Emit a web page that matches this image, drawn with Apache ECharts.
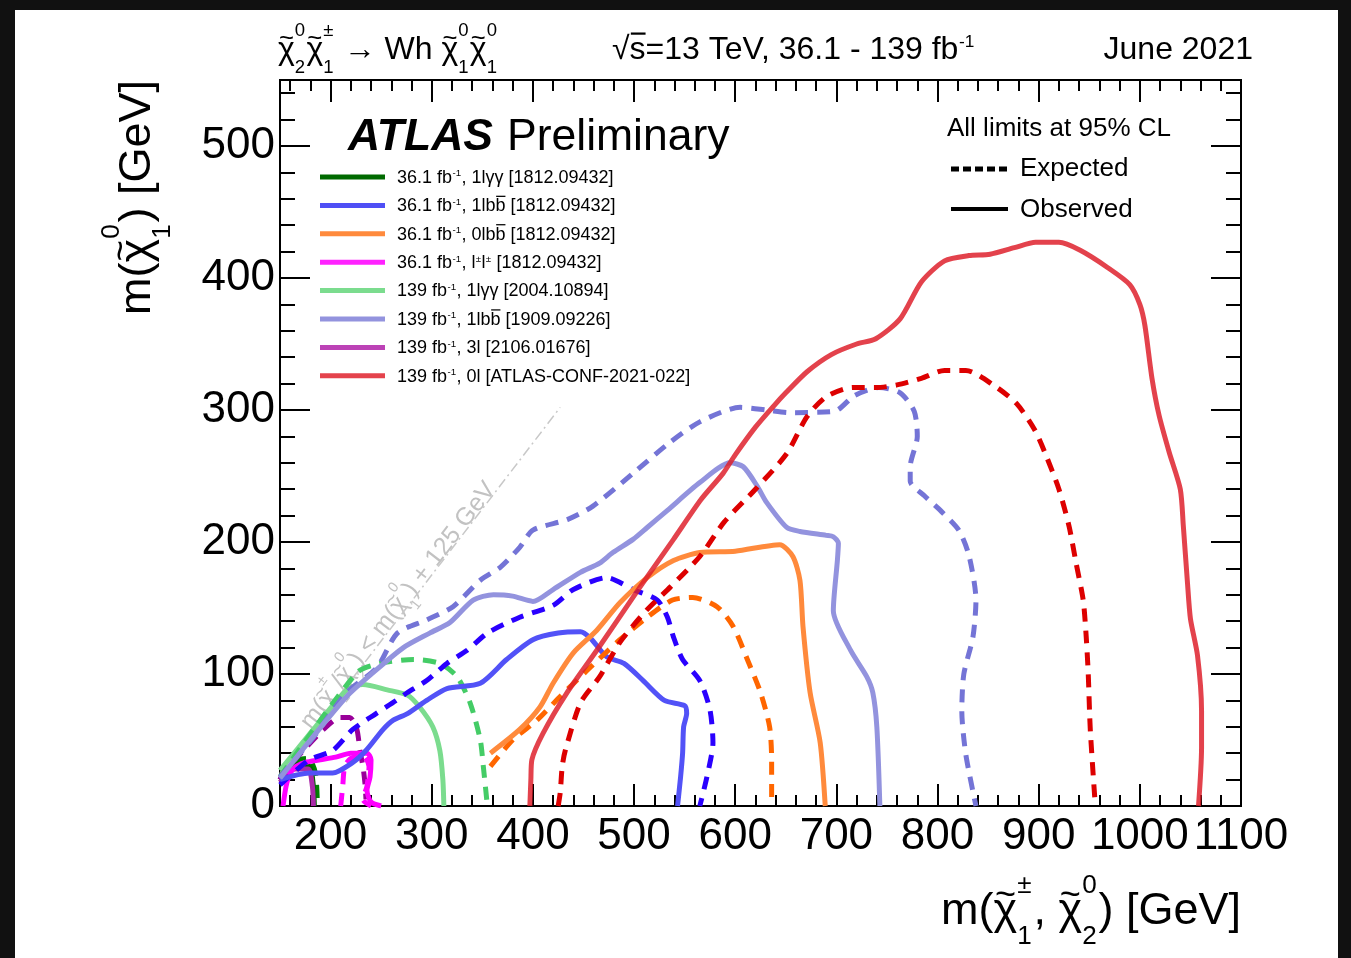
<!DOCTYPE html>
<html>
<head>
<meta charset="utf-8">
<script src="https://cdn.jsdelivr.net/npm/echarts@6/dist/echarts.min.js"></script>
<style>
  html, body { margin: 0; padding: 0; background: #111; }
  #paper { position: absolute; left: 15px; top: 10px; width: 1323px; height: 948px; background: #fff; }
  #chart { position: absolute; left: 0; top: 0; width: 1351px; height: 958px; }
</style>
</head>
<body>
<div id="paper"></div>
<div id="chart"></div>
<script>
// ---------- axis ranges and ticks ----------
const X_MIN = 150, X_MAX = 1100, Y_MIN = 0, Y_MAX = 550;
const xMajorTicks = [200, 300, 400, 500, 600, 700, 800, 900, 1000, 1100];
const yMajorTicks = [0, 100, 200, 300, 400, 500];
const xMinorTicks = [];
for (let v = 160; v < X_MAX; v += 20) if (v % 100 !== 0) xMinorTicks.push(v);
const yMinorTicks = [];
for (let v = 20; v < Y_MAX; v += 20) if (v % 100 !== 0) yMinorTicks.push(v);

// ---------- exclusion contours: [m(chargino/neutralino2), m(neutralino1)] ----------
// 36.1 fb-1, 1l yy
const obs_1lyy_36 = [[150,20],[160,29],[172,32],[180,29],[183,15],[184,0]];
const exp_1lyy_36 = [[152,19],[165,34],[178,36],[185,25],[187,0]];
// 36.1 fb-1, 1lbb
const obs_1lbb_36 = [[150,20],[179,25],[202,25],[222,33],[235,42],[252,58],[262,65],[276,70],[295,80],[315,89],[348,93],[374,111],[400,126],[425,131],[447,132],[457,127],[473,113],[490,108],[509,95],[530,80],[550,76],[552,70],[549,60],[548,40],[546,22],[543,0]];
const exp_1lbb_36 = [[150,16],[179,35],[202,42],[222,58],[245,70],[265,80],[276,86],[295,95],[315,108],[335,118],[355,131],[387,143],[420,152],[440,164],[473,173],[499,164],[523,156],[533,143],[539,128],[548,111],[565,95],[575,73],[578,48],[572,22],[565,0]];
// 36.1 fb-1, 0lbb
const obs_0lbb_36 = [[358,40],[387,58],[407,75],[420,93],[440,116],[463,133],[486,154],[513,173],[539,186],[565,192],[600,193],[644,198],[657,189],[664,171],[667,136],[674,86],[684,48],[689,0]];
const exp_0lbb_36 = [[358,30],[380,50],[404,65],[427,83],[454,103],[486,126],[513,143],[538,156],[558,158],[582,151],[598,136],[612,111],[625,86],[634,60],[636,35],[636,0]];
// 36.1 fb-1, same-sign leptons
const obs_ss_36 = [[153,0],[156,15],[160,25],[166,30],[175,33],[190,35],[205,37],[220,40],[236,40],[240,35],[239,22],[236,12],[240,3],[250,0]];
const exp_ss_36 = [[210,0],[212,15],[214,30],[220,36],[232,38],[238,30],[236,15],[232,5],[240,0]];
// 139 fb-1, 1l yy
const obs_1lyy_139 = [[150,27],[183,58],[216,88],[232,92],[256,88],[276,84],[288,75],[301,60],[308,42],[311,20],[312,0]];
const exp_1lyy_139 = [[150,22],[226,101],[249,108],[282,111],[308,108],[325,98],[338,78],[348,50],[351,30],[355,0]];
// 139 fb-1, 1lbb
const obs_1lbb_139 = [[150,21],[180,50],[216,83],[242,101],[272,120],[298,131],[318,139],[341,156],[361,160],[380,159],[400,155],[420,164],[447,177],[466,184],[479,192],[499,202],[513,211],[533,224],[565,245],[595,260],[608,257],[622,242],[631,230],[651,211],[664,208],[690,205],[697,204],[702,199],[701,186],[697,148],[714,118],[730,98],[736,86],[740,60],[743,0]];
const exp_1lbb_139 = [[150,22],[183,52],[216,86],[246,105],[266,131],[295,141],[321,151],[348,171],[368,181],[387,196],[400,209],[434,217],[459,227],[499,252],[533,274],[565,291],[605,302],[631,300],[654,298],[698,299],[718,311],[742,317],[763,313],[777,299],[780,280],[773,257],[773,246],[787,235],[804,223],[821,209],[831,190],[838,156],[835,128],[826,100],[824,72],[828,39],[838,0]];
// 139 fb-1, 3l
const obs_3l_139 = [[150,18],[165,28],[178,28],[182,15],[183,0]];
const exp_3l_139 = [[150,20],[153,25],[173,42],[193,58],[209,67],[219,67],[226,58],[229,42],[232,30],[234,17],[235,5]];
// 139 fb-1, 0l
const obs_0l_139 = [[397,0],[398,20],[399,35],[410,55],[433,85],[466,121],[506,166],[539,202],[566,232],[588,252],[600,266],[620,287],[638,303],[650,313],[671,329],[695,342],[720,350],[739,354],[763,369],[784,397],[807,413],[831,417],[852,418],[876,423],[897,427],[920,427],[941,421],[968,408],[990,395],[1000,380],[1005,364],[1012,324],[1019,296],[1029,268],[1040,240],[1043,212],[1047,170],[1050,142],[1057,114],[1061,72],[1061,44],[1058,0]];
const exp_0l_139 = [[425,0],[427,10],[429,30],[432,42],[447,78],[466,98],[486,124],[512,148],[536,166],[565,189],[589,215],[620,240],[651,267],[671,295],[690,310],[716,317],[739,317],[760,319],[784,324],[807,330],[828,330],[855,319],[878,305],[896,285],[906,268],[920,240],[930,212],[937,184],[944,156],[947,128],[949,100],[951,58],[956,0]];

// kinematic boundary m(chi2) = m(chi1) + 125 GeV
const boundary = [[150,25],[427,302]];

// ---------- text ----------
const FONT = '"Liberation Sans", Arial, Helvetica, sans-serif';
const legendRows = [
  { color: '#006a00', runs: ['36.1 fb', {sup:'-1', lo:1}, ', 1lγγ [1812.09432]'] },
  { color: '#4f4ff5', runs: ['36.1 fb', {sup:'-1', lo:1}, ', 1lb', {bar:'b'}, ' [1812.09432]'] },
  { color: '#ff8a3c', runs: ['36.1 fb', {sup:'-1', lo:1}, ', 0lb', {bar:'b'}, ' [1812.09432]'] },
  { color: '#ff22ff', runs: ['36.1 fb', {sup:'-1', lo:1}, ', l', {sup:'±', lo:1}, 'l', {sup:'±', lo:1}, ' [1812.09432]'] },
  { color: '#7bdc8e', runs: ['139 fb', {sup:'-1', lo:1}, ', 1lγγ [2004.10894]'] },
  { color: '#9393de', runs: ['139 fb', {sup:'-1', lo:1}, ', 1lb', {bar:'b'}, ' [1909.09226]'] },
  { color: '#bc42b6', runs: ['139 fb', {sup:'-1', lo:1}, ', 3l [2106.01676]'] },
  { color: '#e4434c', runs: ['139 fb', {sup:'-1', lo:1}, ', 0l [ATLAS-CONF-2021-022]'] }
];

// ---------- helpers for formula-like labels ----------
const mctx = document.createElement('canvas').getContext('2d');
function textWidth(t, size, weight, style) {
  mctx.font = (style || 'normal') + ' ' + (weight || 'normal') + ' ' + size + 'px ' + FONT;
  return mctx.measureText(t).width;
}
function piece(t, x, base, size, color, weight, style) {
  return {
    type: 'text', x: x, y: base - 0.31 * size, silent: true,
    style: { text: t, fill: color, fontSize: size, fontFamily: FONT,
             fontWeight: weight || 'normal', fontStyle: style || 'normal',
             align: 'left', verticalAlign: 'middle' }
  };
}
// runs: plain strings, {chi:1} (tilde chi), {bar:'b'} (overlined letter), {sup, sub} (stacked scripts)
function formula(runs, o) {
  const S = o.size, col = o.color || '#000', kids = [];
  let x = 0;
  runs.forEach(function (r) {
    if (typeof r === 'string') {
      kids.push(piece(r, x, 0, S, col, o.weight, o.style));
      x += textWidth(r, S, o.weight, o.style);
    } else if (r.chi) {
      const w = textWidth('χ', S);
      kids.push(piece('χ', x, 0, S, col));
      const ts = S * 0.8;
      kids.push(piece('~', x + w / 2 - textWidth('~', ts) / 2, -0.42 * S, ts, col));
      x += w;
    } else if (r.bar) {
      const w = textWidth(r.bar, S);
      kids.push(piece(r.bar, x, 0, S, col));
      const by = r.barY != null ? r.barY : -0.9;
      kids.push({ type: 'rect', silent: true, shape: { x: x + 0.04 * S, y: by * S, width: w - 0.04 * S, height: 0.07 * S }, style: { fill: col } });
      x += w;
    } else {
      const ss = S * (r.lo ? 0.54 : 0.58);
      let w = 0;
      if (r.sup != null) { kids.push(piece(r.sup, x + (r.lo ? 0.02 * S : 0), (r.lo ? -0.38 : -0.72) * S, ss, col)); w = Math.max(w, textWidth(r.sup, ss)); }
      if (r.sub != null) { kids.push(piece(r.sub, x, 0.42 * S, ss, col)); w = Math.max(w, textWidth(r.sub, ss)); }
      x += w + 0.04 * S;
    }
  });
  const shift = o.align === 'right' ? -x : (o.align === 'center' ? -x / 2 : 0);
  kids.forEach(function (k) { if (k.type === 'rect') k.shape.x += shift; else k.x += shift; });
  return { type: 'group', x: o.x, y: o.y, rotation: o.rotation || 0, silent: true, children: kids };
}
const CHI = { chi: 1 };

// ---------- axes (major and minor ticks on all four sides) ----------
function plainNumber(v) { return String(Math.round(v)); }
function xAxisDef(position, ticks, len, labels) {
  return {
    type: 'value', min: X_MIN, max: X_MAX, position: position, gridIndex: 0,
    axisLine: { show: true, onZero: false, lineStyle: { color: '#000', width: 2 } },
    axisTick: { show: true, inside: true, length: len, customValues: ticks, lineStyle: { color: '#000', width: 2 } },
    axisLabel: labels ? { show: true, customValues: labels, formatter: plainNumber, fontSize: 44, fontFamily: FONT, color: '#000', margin: 9,
                          hideOverlap: false, showMinLabel: true, showMaxLabel: true }
                      : { show: false },
    splitLine: { show: false }
  };
}
function yAxisDef(position, ticks, len, labels) {
  return {
    type: 'value', min: Y_MIN, max: Y_MAX, position: position, gridIndex: 0,
    axisLine: { show: true, onZero: false, lineStyle: { color: '#000', width: 2 } },
    axisTick: { show: true, inside: true, length: len, customValues: ticks, lineStyle: { color: '#000', width: 2 } },
    axisLabel: labels ? { show: true, customValues: labels, formatter: plainNumber, fontSize: 44, fontFamily: FONT, color: '#000', margin: 5,
                          hideOverlap: false, showMinLabel: true, showMaxLabel: true }
                      : { show: false },
    splitLine: { show: false }
  };
}

// ---------- contour series ----------
const DASH = [13, 9];
const contours = [
  { data: boundary,      color: '#c8c8c8', width: 1.5, type: [10, 4, 2, 4] },
  { data: exp_1lyy_36,   color: '#008000', dash: true },
  { data: obs_1lyy_36,   color: '#006a00' },
  { data: exp_3l_139,    color: '#990099', dash: true },
  { data: obs_3l_139,    color: '#aa2aa8' },
  { data: obs_ss_36,     color: '#ff00ff' },
  { data: exp_ss_36,     color: '#ff00ff', dash: true },
  { data: obs_1lyy_139,  color: '#7bdc8e' },
  { data: exp_1lyy_139,  color: '#44cc66', dash: true },
  { data: exp_1lbb_36,   color: '#2a00ff', dash: true },
  { data: obs_1lbb_36,   color: '#5252f7' },
  { data: exp_0lbb_36,   color: '#ff6600', dash: true },
  { data: obs_0lbb_36,   color: '#ff8a3c' },
  { data: exp_1lbb_139,  color: '#7474d6', dash: true },
  { data: obs_1lbb_139,  color: '#9393de' },
  { data: exp_0l_139,    color: '#dd0000', dash: true },
  { data: obs_0l_139,    color: 'rgba(222,30,42,0.84)' }
];
const series = contours.map(function (c) {
  return {
    type: 'line', data: c.data, xAxisIndex: 0, yAxisIndex: 0,
    showSymbol: false, symbol: 'none', smooth: c.width ? false : 0.25, silent: true,
    lineStyle: { color: c.color, width: c.width || 5, type: c.type || (c.dash ? DASH : 'solid'), cap: 'butt', join: 'round' },
    z: 2, zlevel: 0, animation: false
  };
});

// ---------- annotation graphics ----------
const graphics = [];
// header
graphics.push(formula([CHI, {sup:'0', sub:'2'}, CHI, {sup:'±', sub:'1'}, ' → Wh ', CHI, {sup:'0', sub:'1'}, CHI, {sup:'0', sub:'1'}], { x: 278, y: 60, size: 32 }));
graphics.push(formula(['√', {bar:'s', barY:-0.86}, '=13 TeV, 36.1 - 139 fb', {sup:'-1', lo:1}], { x: 612, y: 60, size: 32 }));
graphics.push(formula(['June 2021'], { x: 1253, y: 60, size: 32, align: 'right' }));
// experiment label
graphics.push(formula(['ATLAS'], { x: 348, y: 152, size: 44.5, weight: 'bold', style: 'italic' }));
graphics.push(formula(['Preliminary'], { x: 507, y: 152, size: 44.5 }));
// analysis legend
const LEG_Y0 = 177, LEG_DY = 28.4;
legendRows.forEach(function (row, i) {
  const cy = LEG_Y0 + i * LEG_DY;
  graphics.push({ type: 'line', silent: true, shape: { x1: 320, y1: cy, x2: 385, y2: cy }, style: { stroke: row.color, lineWidth: 5 } });
  graphics.push(formula(row.runs, { x: 397, y: cy + 6.5, size: 18 }));
});
// line-style legend
graphics.push(formula(['All limits at 95% CL'], { x: 947, y: 137, size: 26 }));
graphics.push({ type: 'line', silent: true, shape: { x1: 951, y1: 169, x2: 1008, y2: 169 }, style: { stroke: '#000', lineWidth: 5, lineDash: [8, 4] } });
graphics.push(formula(['Expected'], { x: 1020, y: 177, size: 26 }));
graphics.push({ type: 'line', silent: true, shape: { x1: 951, y1: 209, x2: 1008, y2: 209 }, style: { stroke: '#000', lineWidth: 4 } });
graphics.push(formula(['Observed'], { x: 1020, y: 218, size: 26 }));
// kinematic boundary label
graphics.push(formula(['m(', CHI, {sup:'±', sub:'1'}, '/', CHI, {sup:'0', sub:'2'}, ') < m(', CHI, {sup:'0', sub:'1'}, ') + 125 GeV'],
  { x: 312, y: 731, size: 25, color: '#c2c2c2', rotation: 0.916 }));
// axis titles
graphics.push(formula(['m(', CHI, {sup:'±', sub:'1'}, ', ', CHI, {sup:'0', sub:'2'}, ') [GeV]'], { x: 1241, y: 926, size: 45, align: 'right' }));
graphics.push(formula(['m(', CHI, {sup:'0', sub:'1'}, ') [GeV]'], { x: 152, y: 80, size: 45, align: 'right', rotation: Math.PI / 2 }));

// ---------- chart ----------
const chart = echarts.init(document.getElementById('chart'), null, { renderer: 'canvas' });
chart.setOption({
  backgroundColor: 'transparent',
  animation: false,
  grid: { left: 280, top: 80, width: 961, height: 726, show: false, containLabel: false, outerBoundsMode: 'none' },
  xAxis: [
    xAxisDef('bottom', xMajorTicks, 22, xMajorTicks),
    xAxisDef('bottom', xMinorTicks, 11, null),
    xAxisDef('top', xMajorTicks, 22, null),
    xAxisDef('top', xMinorTicks, 11, null)
  ],
  yAxis: [
    yAxisDef('left', yMajorTicks, 30, yMajorTicks),
    yAxisDef('left', yMinorTicks, 15, null),
    yAxisDef('right', yMajorTicks, 30, null),
    yAxisDef('right', yMinorTicks, 15, null)
  ],
  series: series,
  graphic: graphics
});
</script>
</body>
</html>
